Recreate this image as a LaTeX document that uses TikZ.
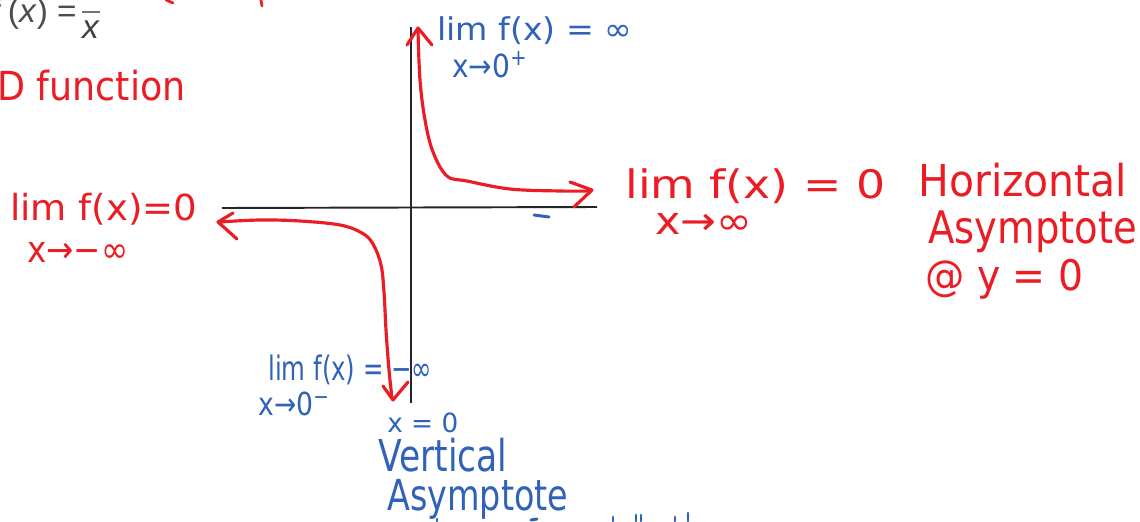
\documentclass[tikz,border=0pt]{standalone}
\usepackage{fontspec}
\setmainfont{DejaVu Sans Condensed}
\newfontfamily\formfont{Liberation Sans}
\definecolor{penred}{HTML}{EC1C24}
\definecolor{penblue}{HTML}{3162B9}
\newcommand\fitwh[3]{\resizebox*{#1}{#2}{#3}}
\begin{document}
\begin{tikzpicture}[x=0.02cm,y=-0.02cm,
  axisline/.style={black!85, line width=1.1pt},
  redcurve/.style={penred, line width=1.8pt, line cap=round, line join=round},
  bluestroke/.style={penblue, line width=1.7pt, line cap=round},
  bluetxt/.style={text=penblue, inner sep=0pt, anchor=west},
  redtxt/.style={text=penred, inner sep=0pt, anchor=west}]
\fill[white] (0,0) rectangle (1140,521);
\useasboundingbox (0,0) rectangle (1140,521);
\clip (0,0) rectangle (1140,521);

% formula f(x) = 1/x (top cut off)
\node[anchor=east, text=black!70, font=\formfont\fontsize{19}{19}\selectfont, inner sep=0pt] (fx) at (77,14) {\textit{f}\,(\textit{x}) =};
\draw[black!55, line width=1pt] (82,12) -- (100,12);
\node[text=black!75, font=\formfont\fontsize{19}{19}\selectfont, inner sep=0pt] (den) at (91,30) {\textit{x}};

% ODD function (left part cut off)
\node[redtxt, anchor=east] (odd) at (186,86) {\fitwh{4.9cm}{0.62cm}{ODD function}};

% cut-off red strokes at top
\draw[redcurve, line width=1.5pt] (166,0) -- (173,3);
\draw[redcurve, line width=1.5pt] (261,0) -- (262,6);

% axes
\coordinate (ytop) at (411,27);
\coordinate (ybot) at (411,403);
\coordinate (xl) at (222,208);
\coordinate (xr) at (597,207);
\draw[axisline] (ytop) -- (ybot);
\draw[axisline] (xl) -- (xr);

% branch in quadrant I
\draw[redcurve] plot[smooth, tension=0.6] coordinates {(418,30) (420,80) (425,120) (433,152) (447,176) (467,181) (510,189) (560,191) (591,191)};
\draw[redcurve] (407,45) -- (418,28) -- (432,45);
\draw[redcurve] (570,182) -- (592,190) -- (574,207);

% branch in quadrant III
\draw[redcurve] plot[smooth, tension=0.6] coordinates {(219,222) (260,220) (300,221) (340,225) (362,233) (373,244) (381,265) (384,292) (386,330) (389,370) (392,398)};
\draw[redcurve] (233,213) -- (218,222) -- (237,239);
\draw[redcurve] (383,386) -- (393,400) -- (408,382);

% small blue tick
\draw[bluestroke] (534,215) -- (549,217);

% blue labels
\node[bluetxt] (limtop) at (437,31) {\fitwh{3.9cm}{0.56cm}{lim f(x) = ∞}};
\node[bluetxt] (subtop) at (452,65) {\fitwh{1.52cm}{0.52cm}{x→0\textsuperscript{+}}};
\node[bluetxt] (limbot) at (268,370) {\fitwh{3.28cm}{0.6cm}{lim f(x) = −∞}};
\node[bluetxt] (subbot) at (258,404) {\fitwh{1.44cm}{0.48cm}{x→0\textsuperscript{−}}};
\node[bluetxt] (xzero) at (387,423) {\fitwh{1.42cm}{0.4cm}{x = 0}};
\node[bluetxt] (vert) at (378,455) {\fitwh{2.58cm}{0.68cm}{Vertical}};
\node[bluetxt] (vasym) at (387,499) {\fitwh{3.62cm}{0.8cm}{Asymptote}};

% cut-off blue strokes at bottom
\draw[bluestroke] (437,519) -- (437,521);
\draw[bluestroke] (531,520) -- (537,519);
\draw[bluestroke] (613,517) -- (613,521);
\draw[bluestroke] (636,515) -- (636,521);
\draw[bluestroke] (641,515) -- (641,521);
\draw[bluestroke] (675,517) -- (675,521);
\draw[bluestroke] (688,513) -- (688,521);

% red labels
\node[redtxt] (limleft) at (10,209) {\fitwh{3.74cm}{0.64cm}{lim f(x)=0}};
\node[redtxt] (subleft) at (27,252) {\fitwh{2.02cm}{0.4cm}{x→−∞}};
\node[redtxt] (limright) at (625,186) {\fitwh{5.2cm}{0.7cm}{lim f(x) = 0}};
\node[redtxt] (subright) at (655,224) {\fitwh{1.94cm}{0.42cm}{x→∞}};
\node[redtxt] (hor) at (918,180) {\fitwh{4.18cm}{0.68cm}{Horizontal}};
\node[redtxt] (hasym) at (928,232) {\fitwh{4.18cm}{0.84cm}{Asymptote}};
\node[redtxt] (aty) at (925,279) {\fitwh{3.16cm}{0.8cm}{@ y = 0}};
\end{tikzpicture}
\end{document}
